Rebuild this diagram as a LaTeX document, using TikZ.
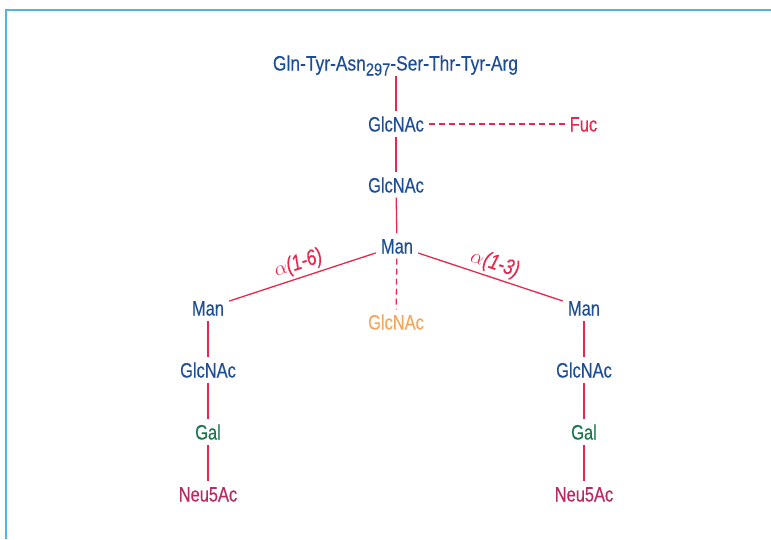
\documentclass[tikz,border=0pt]{standalone}
\usepackage{graphicx}
\usepackage{fontspec}
\setmainfont{Liberation Sans}[FakeStretch=0.79, FakeBold=0.3]
\definecolor{cblue}{HTML}{1D4E95}
\definecolor{cred}{HTML}{E6284C}
\definecolor{corange}{HTML}{F6A65C}
\definecolor{cgreen}{HTML}{17774A}
\definecolor{cmag}{HTML}{B72A62}
\definecolor{cframe}{HTML}{4CB8E2}
\begin{document}
\begin{tikzpicture}[x=1pt,y=-1pt,
  sug/.style={font=\fontsize{20.8}{22}\selectfont, text height=15pt, text depth=0pt, inner sep=5pt, anchor=center},
  link/.style={draw=cred, line width=1.3pt},
  dlink/.style={draw=cred, line width=1.3pt, dash pattern=on 6pt off 4pt},
  lbl/.style={font=\fontsize{22}{22}\selectfont, text=cred, inner sep=3pt}]
\useasboundingbox (0,0) rectangle (771,539);
\draw[cframe, line width=2pt] (6,539) -- (6,10) -- (771,10);
\node[sug, text=cblue] (pep) at (395.5,63) {\scalebox{1.06}[1]{Gln-Tyr-Asn\raisebox{-5pt}{\fontsize{17.5}{18}\selectfont 297}-Ser-Thr-Tyr-Arg}};
\node[sug, text=cblue] (g1) at (396,124) {GlcNAc};
\node[sug, text=cred] (fuc) at (583.5,124) {Fuc};
\node[sug, text=cblue] (g2) at (396,185) {GlcNAc};
\node[sug, text=cblue] (man) at (397,246) {Man};
\node[sug, text=cblue] (manL) at (208,308) {Man};
\node[sug, text=cblue] (manR) at (584,308) {Man};
\node[sug, text=corange] (gb) at (396,322) {GlcNAc};
\node[sug, text=cblue] (gL) at (208,370) {GlcNAc};
\node[sug, text=cblue] (gR) at (584,370) {GlcNAc};
\node[sug, text=cgreen] (galL) at (208,432) {Gal};
\node[sug, text=cgreen] (galR) at (584,432) {Gal};
\node[sug, text=cmag] (nL) at (208,494) {Neu5Ac};
\node[sug, text=cmag] (nR) at (584,494) {Neu5Ac};
\draw[link] (pep.south -| g1) -- (g1);
\draw[dlink] (g1) -- (fuc);
\draw[link] (g1) -- (g2);
\draw[link] (g2) -- (man);
\draw[link] (manL) -- node[lbl, sloped, above] {$\alpha$\textit{(1-6)}} (man);
\draw[link] (man) -- node[lbl, sloped, above] {$\alpha$\textit{(1-3)}} (manR);
\draw[dlink] (man) -- (gb);
\draw[link] (manL) -- (gL);
\draw[link] (gL) -- (galL);
\draw[link] (galL) -- (nL);
\draw[link] (manR) -- (gR);
\draw[link] (gR) -- (galR);
\draw[link] (galR) -- (nR);
\end{tikzpicture}
\end{document}
